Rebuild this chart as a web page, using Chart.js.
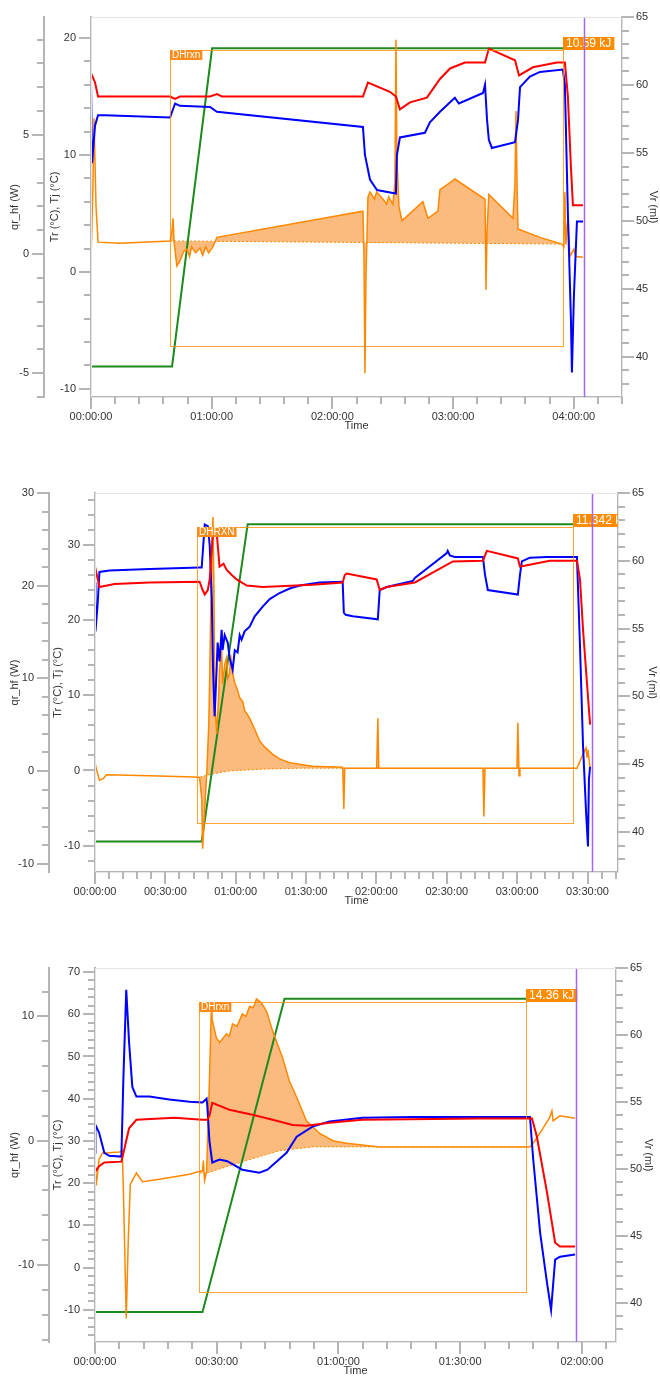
<!DOCTYPE html>
<html>
<head>
<meta charset="utf-8">
<script src="https://cdn.jsdelivr.net/npm/chart.js@4.4.1/dist/chart.umd.min.js"></script>
<style>
  html, body { margin: 0; padding: 0; background: #fff; overflow: hidden; }
  canvas { position: absolute; left: 0; }
</style>
</head>
<body>
<canvas id="c1" width="660" height="431" style="top:0px"></canvas>
<canvas id="c2" width="660" height="430" style="top:476px"></canvas>
<canvas id="c3" width="660" height="425" style="top:951px"></canvas>
<script>
// ---- run 1 (time in minutes) ----
const p1Tr = [[0,17.0],[2.0,16.2],[3.5,15.0],[39.3,15.0],[41.8,14.8],[44.2,15.0],[59.2,15.0],[62.6,15.2],[65.1,15.0],[135.2,15.0],[137.7,16.2],[148.6,15.4],[151.6,15.0],[153.6,13.9],[158.6,14.5],[167.0,14.9],[173.5,16.5],[178.5,17.4],[185.9,17.9],[195.9,17.9],[197.8,19.1],[210.8,18.1],[212.8,16.8],[219.7,17.5],[231.6,17.9],[235.6,17.9],[237.1,15.0],[238.6,9.0],[239.6,5.7],[244.6,5.7]];
const p1Tj = [[0,16.4],[0.5,9.3],[2.0,12.5],[3.5,13.4],[7.0,13.4],[39.3,13.2],[41.8,14.4],[44.2,14.2],[59.2,14.1],[62.6,13.7],[135.2,12.4],[136.2,10.0],[138.7,7.9],[142.2,7.0],[150.1,6.75],[151.6,6.7],[152.1,10.0],[153.6,11.5],[166.0,11.9],[168.5,12.8],[173.5,13.7],[178.5,14.5],[180.9,14.9],[182.9,14.4],[194.9,15.3],[195.9,16.0],[196.9,13.0],[197.8,11.3],[199.3,10.6],[210.8,11.1],[212.3,13.0],[213.3,15.8],[218.2,16.7],[223.2,17.1],[234.6,17.3],[235.6,16.0],[237.1,5.0],[238.6,-4.0],[239.1,-8.6],[240.1,-2.0],[241.6,4.3],[244.6,4.3]];
const p1Qr = [[0,-0.34],[1.0,3.0],[1.5,5.7],[2.5,2.0],[3.5,0.5],[14.4,0.45],[39.3,0.55],[40.3,1.0],[40.8,1.5],[41.3,0.5],[42.7,-0.5],[44.2,-0.3],[46.0,0.1],[47.7,0.2],[49.0,-0.1],[50.0,0.3],[52.0,0.05],[54.2,0.25],[55.5,-0.05],[57.0,0.3],[58.5,0.05],[60.6,0.3],[62.6,0.7],[135.2,1.8],[135.7,0],[136.2,-5.0],[136.7,-1.0],[137.7,2.4],[138.7,2.6],[141.0,2.3],[142.0,2.6],[145.2,2.3],[147.0,2.1],[148.0,2.4],[150.1,2.1],[151.1,3.0],[151.6,9.0],[152.1,4.0],[153.1,2.0],[154.6,1.4],[165.0,2.2],[167.5,1.5],[172.5,1.8],[173.5,2.7],[178.5,3.0],[180.9,3.15],[195.9,2.3],[196.4,-1.5],[196.9,1.0],[197.8,2.5],[209.8,1.5],[210.8,3.0],[211.3,6.0],[211.8,3.0],[212.3,1.05],[223.2,0.7],[234.1,0.42],[235.1,0.3],[235.6,2.6],[236.1,0.4],[237.1,1.5],[238.1,-0.1],[240.1,0.2],[241.1,-0.1],[244.6,-0.13]];
const p1Base = [[39.3,0.55],[234.1,0.42]];
const p1Vr = [[0,39.3],[40.3,39.3],[60.2,62.7],[244.6,62.7]];
const p1Box = [39.3, 234.6, -3.87, 8.57]; // t start, t end, qr low, qr high
const p1Marker = 245;

// ---- run 2 ----
const p2Tr = [[0,27.1],[1.9,24.4],[8.3,24.8],[23.3,25.0],[44.6,25.1],[45.9,24.0],[46.8,23.4],[48.1,24.0],[48.9,25.4],[50.3,31.6],[51.9,31.6],[53.1,27.1],[54.8,27.5],[56.1,26.7],[58.3,26.0],[60.4,25.4],[64.7,24.6],[71.5,24.4],[92.8,24.7],[105.6,25.0],[106.5,26.0],[107.3,26.2],[120.1,25.4],[121.4,24.0],[124.4,24.4],[136.4,25.0],[152.6,27.8],[165.4,27.9],[167.1,29.2],[180.3,28.2],[181.2,27.1],[184.2,27.3],[193.9,27.9],[205.5,27.9],[206.8,25.4],[208.1,18.7],[210.2,9.8],[211.1,6.1]];
const p2Tj = [[0,25.0],[0.2,18.5],[1.1,22.0],[1.9,26.4],[6.2,26.6],[23.3,26.8],[44.6,27.0],[45.5,27.0],[46.4,31.0],[46.8,32.7],[48.1,32.5],[48.9,30.0],[49.8,22.7],[50.3,13.8],[51.0,7.2],[51.4,10.0],[52.3,17.0],[53.1,14.5],[54.0,18.7],[54.4,16.0],[55.3,18.0],[56.6,17.0],[57.4,15.0],[58.7,13.4],[59.6,16.0],[60.8,15.7],[61.7,18.0],[62.5,17.4],[63.8,18.5],[65.9,19.1],[68.1,20.5],[71.5,21.8],[74.5,22.8],[78.7,23.6],[83.0,24.2],[87.3,24.6],[95.8,25.0],[105.6,25.1],[106.1,21.0],[106.9,20.7],[109.9,20.5],[120.6,20.1],[121.4,24.0],[124.4,24.4],[135.5,25.2],[136.4,25.6],[150.0,28.9],[150.4,29.2],[151.3,28.6],[153.4,28.4],[165.4,28.4],[166.3,26.0],[167.5,24.0],[180.3,23.4],[181.2,26.0],[182.0,27.8],[185.4,28.3],[192.7,28.4],[205.5,28.4],[206.8,16.5],[208.1,3.2],[209.4,-5.6],[210.2,-10.1],[210.6,-1.2],[211.1,0.5]];
const p2Qr = [[0,0.9],[0.6,0.2],[1.9,-1.0],[3.6,-0.8],[4.9,-0.4],[23.3,-0.5],[42.5,-0.65],[44.6,-0.7],[45.5,-3.0],[45.9,-8.4],[46.8,-4.0],[47.7,0],[48.5,5.0],[48.9,10.0],[49.4,18.0],[49.8,24.0],[50.3,27.4],[50.7,20.0],[51.0,10.0],[51.4,6.0],[51.9,4.0],[52.7,8.0],[53.1,11.0],[54.0,13.0],[54.4,9.4],[55.3,11.5],[56.1,12.2],[56.6,10.0],[57.4,10.5],[57.8,12.5],[58.7,10.5],[59.6,9.5],[60.4,9.0],[61.7,7.9],[63.0,7.5],[63.8,6.5],[64.7,6.2],[65.9,5.7],[68.1,4.5],[70.2,3.25],[72.3,2.6],[75.8,1.8],[78.7,1.3],[83.0,0.9],[92.8,0.5],[105.6,0.4],[106.1,-4.1],[106.5,0.3],[120.1,0.3],[120.6,5.7],[121.0,0.3],[165.4,0.3],[165.8,-4.9],[166.3,0.3],[179.9,0.3],[180.3,5.2],[180.8,-0.5],[181.2,0.3],[205.5,0.3],[207.7,1.6],[209.4,2.5],[209.8,1.5],[210.2,2.3],[211.1,0.3]];
const p2Base = [[43.3,-0.75],[50.3,-0.3],[57.4,0],[71.5,0.2],[87.3,0.3],[203.8,0.3]];
const p2Vr = [[0,39.3],[45.5,39.3],[65.1,62.7],[211.1,62.7]];
const p2Box = [43.3, 203.8, -5.6, 26.3];
const p2Marker = 212;

// ---- run 3 ----
const p3Tr = [[0,22.7],[1.0,24.0],[2.3,24.9],[6.5,25.1],[7.2,28.0],[8.4,33.0],[10.2,35.0],[19.6,35.5],[26.5,35.0],[27.7,35.0],[28.2,36.0],[28.9,39.0],[33.1,37.4],[38.8,36.2],[43.8,35.0],[48.7,33.8],[52.1,33.6],[57.8,34.3],[65.9,35.0],[94.8,35.3],[107.7,35.3],[108.9,31.0],[111.4,17.8],[113.4,5.9],[114.6,5.0],[118.3,5.0]];
const p3Tj = [[0,27.2],[0.1,33.8],[1.0,32.0],[2.3,27.2],[3.5,26.5],[6.5,26.3],[7.0,45.0],[7.7,65.8],[8.4,53.3],[9.2,42.8],[10.2,40.5],[13.4,40.5],[18.3,39.8],[23.3,39.3],[26.5,39.1],[27.5,40.0],[27.7,38.0],[28.2,30.0],[28.9,24.9],[30.7,25.6],[32.6,25.2],[36.3,23.2],[40.5,22.5],[42.5,23.2],[47.2,27.2],[49.7,31.0],[53.6,33.4],[57.8,34.6],[65.9,35.5],[78.3,35.7],[94.8,35.7],[107.2,35.7],[108.0,25.6],[109.7,8.3],[111.4,-3.6],[112.4,-10.0],[113.4,1.9],[114.6,2.6],[118.3,3.1]];
const p3Qr = [[0,-1.4],[0.3,-3.6],[1.0,-1.5],[1.8,-1.0],[6.0,-0.9],[6.7,-0.8],[7.0,-4.0],[7.7,-14.3],[8.2,-8.0],[8.7,-3.5],[10.2,-2.6],[11.7,-3.3],[15.9,-3.1],[23.3,-2.7],[26.5,-2.4],[26.7,-1.6],[27.0,-3.2],[27.5,-2.5],[28.2,4.8],[28.7,11.0],[28.9,9.7],[29.9,8.3],[30.7,7.9],[32.4,8.6],[33.1,8.4],[33.9,9.4],[35.0,9.2],[36.3,10.2],[37.2,10.0],[38.1,10.8],[39.0,10.7],[39.8,11.4],[41.0,11.1],[42.3,10.4],[43.8,8.8],[46.2,6.7],[47.9,4.8],[49.7,3.5],[52.1,1.6],[55.3,0.6],[58.6,0],[62.0,-0.2],[70.2,-0.5],[94.8,-0.5],[107.2,-0.5],[108.4,0],[110.4,1.0],[112.1,1.9],[112.6,2.4],[112.9,1.6],[114.6,2.0],[118.3,1.8]];
const p3Base = [[25.7,-2.6],[27.5,-2.6],[37.3,-1.6],[45.5,-0.8],[53.6,-0.5],[106.2,-0.5]];
const p3Vr = [[0,39.3],[26.5,39.3],[46.7,62.7],[118.6,62.7]];
const p3Box = [25.7, 106.2, -12.2, 11.2];
const p3Marker = 118.6;

const FONT = "'Liberation Sans', Arial, sans-serif";
const FILL = "#fbbb7e";

const hms = (m) => {
  const h = Math.floor(m / 60);
  const mm = Math.round(m % 60);
  return String(h).padStart(2, "0") + ":" + String(mm).padStart(2, "0") + ":00";
};

// tick list at every `step` between scale min and max
const stepTicks = (step) => (scale) => {
  const out = [];
  for (let v = Math.ceil(scale.min / step) * step; v <= scale.max + 1e-9; v += step) {
    out.push({ value: Math.round(v * 1000) / 1000 });
  }
  scale.ticks = out;
};

// short ticks for minor values, long ones where a label is shown
const axisTicks = {
  id: "axisTicks",
  afterDraw(chart) {
    const { ctx, chartArea: a } = chart;
    ctx.save();
    ctx.strokeStyle = "#e4e4e4";
    ctx.lineWidth = 1;
    ctx.strokeRect(a.left + 0.5, a.top + 0.5, a.right - a.left, a.bottom - a.top);
    ctx.strokeStyle = "#b5b5b5";
    ctx.lineWidth = 2;
    Object.values(chart.scales).forEach((s) => {
      s.ticks.forEach((t) => {
        const len = t.label ? 12 : 7;
        const p = Math.round(s.getPixelForValue(t.value));
        ctx.beginPath();
        if (s.position === "left") {
          ctx.moveTo(s.right, p);
          ctx.lineTo(s.right - len, p);
        } else if (s.position === "right") {
          ctx.moveTo(s.left, p);
          ctx.lineTo(s.left + len, p);
        } else {
          ctx.moveTo(p, s.top);
          ctx.lineTo(p, s.top + len);
        }
        ctx.stroke();
      });
    });
    ctx.restore();
  },
};

// integration window, its two tags and the end marker
const reaction = {
  id: "reaction",
  afterDatasetsDraw(chart, args, opts) {
    const { ctx, chartArea: a, scales } = chart;
    const x = scales.x, qr = scales.qr;
    const x0 = Math.round(x.getPixelForValue(opts.box[0]));
    const x1 = Math.round(x.getPixelForValue(opts.box[1]));
    const yTop = Math.round(qr.getPixelForValue(opts.box[3]));
    const yBot = Math.round(qr.getPixelForValue(opts.box[2]));
    ctx.save();
    ctx.beginPath();
    ctx.rect(a.left, a.top, a.right - a.left, a.bottom - a.top);
    ctx.clip();
    ctx.strokeStyle = "rgba(255,140,0,0.8)";
    ctx.lineWidth = 1;
    ctx.strokeRect(x0 + 0.5, yTop + 0.5, x1 - x0, yBot - yTop);

    ctx.textBaseline = "middle";
    ctx.font = "10px " + FONT;
    const tw = ctx.measureText(opts.tag).width + 4;
    ctx.fillStyle = "#ff8c1a";
    ctx.fillRect(x0, yTop, tw, 10);
    ctx.fillStyle = "#fff";
    ctx.fillText(opts.tag, x0 + 2, yTop + 5.5);

    ctx.font = "12px " + FONT;
    const ew = ctx.measureText(opts.energy).width + 6;
    ctx.fillStyle = "#ff8c00";
    ctx.fillRect(x1, yTop - 13, ew, 13);
    ctx.fillStyle = "#fff";
    ctx.fillText(opts.energy, x1 + 3, yTop - 6);

    const xm = Math.round(x.getPixelForValue(opts.marker)) + 0.5;
    ctx.strokeStyle = "#a366ee";
    ctx.lineWidth = 1.5;
    ctx.beginPath();
    ctx.moveTo(xm, a.top);
    ctx.lineTo(xm, a.bottom);
    ctx.stroke();
    ctx.restore();
  },
};

const tickFont = { family: FONT, size: 11 };
const titleFont = { family: FONT, size: 11 };

const yAxis = (pos, weight, range, step, major, width, title, pad) => ({
  type: "linear",
  position: pos,
  weight: weight,
  min: range[0],
  max: range[1],
  bounds: "data",
  afterBuildTicks: stepTicks(step),
  afterFit: (s) => { s.width = width; },
  grid: { display: false, drawTicks: true, tickLength: 12 },
  border: { display: true, color: "#b5b5b5", width: 2 },
  ticks: {
    autoSkip: false,
    padding: pos === "right" ? 2 : 3,
    color: "#333",
    font: tickFont,
    callback: (v) => (Math.abs(v % major) < 1e-6 ? String(v) : ""),
  },
  title: { display: true, text: title, color: "#333", font: titleFont, padding: { top: pad, bottom: 0 } },
});

const makePanel = (p) => {
  new Chart(document.getElementById(p.id), {
    type: "line",
    data: {
      datasets: [
        { data: p.tr, borderColor: "#ff0000", yAxisID: "tr", borderWidth: 2 },
        { data: p.tj, borderColor: "#0000ff", yAxisID: "tr", borderWidth: 2 },
        { data: p.qr, borderColor: "#ff8800", yAxisID: "qr", borderWidth: 1.5, fill: { target: 4, above: FILL, below: FILL } },
        { data: p.vr, borderColor: "#1c8a1c", yAxisID: "vr", borderWidth: 2 },
        { data: p.base, borderColor: "#ff8800", yAxisID: "qr", borderWidth: 1, borderDash: [2, 2] },
      ],
    },
    options: {
      responsive: false,
      animation: false,
      devicePixelRatio: 1,
      events: [],
      layout: { padding: { top: 17, left: 0, right: 0, bottom: 0 } },
      elements: { point: { radius: 0 }, line: { tension: 0 } },
      plugins: {
        legend: { display: false },
        tooltip: { enabled: false },
        filler: { drawTime: "beforeDatasetsDraw" },
        reaction: { box: p.box, tag: p.tag, energy: p.energy, marker: p.marker },
      },
      scales: {
        x: {
          type: "linear",
          position: "bottom",
          min: 0,
          max: p.xMax,
          bounds: "data",
          afterBuildTicks: stepTicks(p.xStep),
          afterFit: (s) => { s.height = 34; },
          grid: { display: false, drawTicks: true, tickLength: 12 },
          border: { display: true, color: "#b5b5b5", width: 2 },
          ticks: {
            autoSkip: false,
            maxRotation: 0,
            padding: 1,
            color: "#333",
            font: tickFont,
            callback: (v) => (Math.abs(v % p.xMajor) < 1e-6 ? hms(v) : ""),
          },
          title: { display: true, text: "Time", color: "#333", font: { family: FONT, size: 11, lineHeight: 1 }, padding: { top: 0, bottom: 0 } },
        },
        qr: yAxis("left", 1, p.qrRange, p.qrStep, p.qrMajor, p.widths[0], "qr_hf (W)", p.pads[0]),
        tr: yAxis("left", 0, p.trRange, 2, p.trMajor, p.widths[1], "Tr (°C), Tj (°C)", p.pads[1]),
        vr: yAxis("right", 0, [37.05, 65], 1, 5, p.widths[2], "Vr (ml)", p.pads[2]),
      },
    },
    plugins: [axisTicks, reaction],
  });
};

makePanel({
  id: "c1", tr: p1Tr, tj: p1Tj, qr: p1Qr, base: p1Base, vr: p1Vr,
  box: p1Box, tag: "DHrxn", energy: "10.59 kJ", marker: p1Marker,
  xMax: 264, xStep: 12, xMajor: 60,
  qrRange: [-6, 9.95], qrStep: 1, qrMajor: 5,
  trRange: [-10.7, 21.8], trMajor: 10,
  widths: [44, 47, 38], pads: [8.4, 4.4, 0],
});
makePanel({
  id: "c2", tr: p2Tr, tj: p2Tj, qr: p2Qr, base: p2Base, vr: p2Vr,
  box: p2Box, tag: "DHRXN", energy: "11.342 kJ", marker: p2Marker,
  xMax: 223, xStep: 6, xMajor: 30,
  qrRange: [-10.9, 30], qrStep: 2, qrMajor: 10,
  trRange: [-13.5, 36.9], trMajor: 10,
  widths: [49, 46, 42], pads: [8.4, 2.4, 1.4],
});
makePanel({
  id: "c3", tr: p3Tr, tj: p3Tj, qr: p3Qr, base: p3Base, vr: p3Vr,
  box: p3Box, tag: "DHrxn", energy: "14.36 kJ", marker: p3Marker,
  xMax: 128.4, xStep: 6, xMajor: 30,
  qrRange: [-16.2, 13.9], qrStep: 2, qrMajor: 10,
  trRange: [-17.6, 70.95], trMajor: 10,
  widths: [49, 46, 44], pads: [8.4, 2.4, 5.4],
});
</script>
</body>
</html>
